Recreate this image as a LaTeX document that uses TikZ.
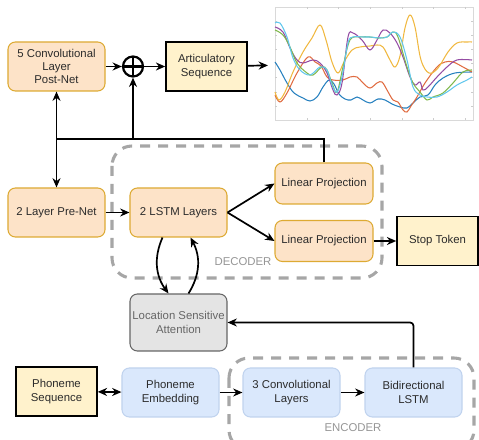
\documentclass[tikz,border=0pt]{standalone}
\usepackage{fontspec}
\setmainfont{Liberation Sans}
\usepackage{tikz}
\usetikzlibrary{arrows.meta,calc,positioning}

\definecolor{orfill}{HTML}{FDE3C8}
\definecolor{orline}{HTML}{DDAA33}
\definecolor{yefill}{HTML}{FFF2CC}
\definecolor{blfill}{HTML}{DAE8FC}
\definecolor{blline}{HTML}{C0D3EE}
\definecolor{grfill}{HTML}{E4E4E4}
\definecolor{grline}{HTML}{666666}
\definecolor{dashgray}{HTML}{A6A6A6}
\definecolor{txt}{HTML}{2B2B2B}
\definecolor{mblue}{rgb}{0.15,0.5,0.75}
\definecolor{morange}{rgb}{0.88,0.42,0.25}
\definecolor{myellow}{rgb}{0.94,0.72,0.25}
\definecolor{mpurple}{rgb}{0.58,0.3,0.64}
\definecolor{mgreen}{rgb}{0.5,0.72,0.3}
\definecolor{mcyan}{rgb}{0.38,0.78,0.93}

\begin{document}
\begin{tikzpicture}[x=0.3mm, y=-0.3mm, >={Stealth[length=2.8mm,width=2.4mm]}, font=\fontsize{9.7}{11.4}\selectfont]
	\tikzset{procbox/.style={rectangle, rounded corners=2.2mm, draw=orline, fill=orfill, line width=0.9pt, text=txt, align=center, minimum width=29.1mm, minimum height=14.7mm, inner sep=1pt}}
	\tikzset{projbox/.style={procbox, minimum width=29.4mm, minimum height=12.3mm}}
	\tikzset{iobox/.style={rectangle, draw=black, fill=yefill, line width=1.3pt, text=txt, align=center, minimum width=24.3mm, minimum height=14.6mm, inner sep=1pt}}
	\tikzset{encbox/.style={rectangle, rounded corners=2.2mm, draw=blline, fill=blfill, line width=0.9pt, text=txt, align=center, minimum width=29.1mm, minimum height=14.7mm, inner sep=1pt}}
	\tikzset{attbox/.style={encbox, draw=grline, fill=grfill, text=grline, minimum height=17.1mm}}
	\tikzset{groupbox/.style={draw=dashgray, line width=2.6pt, dash pattern=on 3mm off 2.4mm, rounded corners=6mm}}
	\tikzset{grouplabel/.style={text=dashgray!90!black}}
	\tikzset{oplus/.style={circle, draw=black, line width=1.9pt, minimum size=6mm, inner sep=0pt, path picture={\draw[line width=1.9pt] (path picture bounding box.north) -- (path picture bounding box.south) (path picture bounding box.west) -- (path picture bounding box.east);}}}
	\tikzset{conn/.style={draw=black, line width=1.45pt}}
	\tikzset{curve/.style={line width=0.9pt}}

\useasboundingbox (0,0) rectangle (479,440);
\clip (0,0) rectangle (479,440);

% groups
\draw[groupbox] (112,146) rectangle (382,278);
\draw[groupbox] (229,358) rectangle (474,450);
\node[grouplabel] (declabel) at (243,262) {DECODER};
\node[grouplabel] (enclabel) at (353,428) {ENCODER};

% blocks
\node[procbox] (postnet) at (56.5,66.5) {5 Convolutional\\Layer\\Post-Net};
\node[oplus] (oplus) at (133,66.5) {};
\node[iobox] (artic) at (206.5,66.5) {Articulatory\\Sequence};
\node[procbox] (prenet) at (56.5,212.5) {2 Layer Pre-Net};
\node[procbox] (lstm) at (178.5,212.5) {2 LSTM Layers};
\node[projbox] (lp1) at (324,183.5) {Linear Projection};
\node[projbox] (lp2) at (324,241) {Linear Projection};
\node[iobox] (stop) at (437.5,241) {Stop Token};
\node[attbox] (att) at (178.5,322.5) {Location Sensitive\\Attention};
\node[iobox] (phseq) at (56.5,391.5) {Phoneme\\Sequence};
\node[encbox] (phemb) at (170.5,392.5) {Phoneme\\Embedding};
\node[encbox] (conv) at (291.5,392.5) {3 Convolutional\\Layers};
\node[encbox] (bilstm) at (413.5,392.5) {Bidirectional\\LSTM};

% articulatory trajectories
\node[draw=gray!30, line width=0.4pt, minimum width=59.4mm, minimum height=33.9mm, inner sep=0pt, outer sep=0pt] (plot) at (374,63.5) {};
\foreach \tx in {307,338,370,402,433,465}
	\draw[gray!40, line width=0.4pt] (\tx,120) -- (\tx,118) (\tx,7) -- (\tx,9);
\foreach \ty in {21,35,49,63,77,92,106}
	\draw[gray!40, line width=0.4pt] (275,\ty) -- (277,\ty) (473,\ty) -- (471,\ty);
\draw[curve, mblue] plot[smooth, tension=0.6] coordinates {(275,62) (280,70) (287,83) (294,93) (303,98) (310,101) (317,97) (323,87) (329,80) (334,84) (339,94) (345,99) (351,100) (357,97) (363,100) (370,103) (378,99) (385,100) (392,104) (400,107) (407,108) (413,103) (420,97) (428,95) (435,85) (443,78) (455,73) (472,72)};
\draw[curve, morange] plot[smooth, tension=0.6] coordinates {(275,95) (280,102) (287,93) (297,73) (308,57) (315,62) (321,66) (327,77) (333,80) (343,80) (350,77) (357,77) (363,83) (370,88) (377,83) (382,82) (387,90) (393,100) (398,102) (403,110) (407,112) (411,106) (417,97) (425,83) (437,67) (445,62) (453,62) (463,67) (472,72)};
\draw[curve, myellow] plot[smooth, tension=0.6] coordinates {(275,92) (279,100) (285,92) (293,72) (303,52) (312,38) (320,25) (326,40) (332,62) (338,73) (344,62) (352,50) (360,47) (370,46) (377,45) (383,47) (390,60) (395,67) (400,56) (405,28) (410,15) (415,27) (421,60) (429,73) (438,68) (448,52) (457,43) (467,42) (472,42)};
\draw[curve, mpurple] plot[smooth, tension=0.6] coordinates {(275,27) (283,32) (290,48) (297,60) (303,63) (313,60) (320,63) (327,73) (333,90) (337,95) (342,83) (348,37) (353,33) (362,40) (370,50) (377,40) (383,30) (390,33) (397,43) (403,57) (410,77) (415,85) (420,82) (423,90) (428,87) (437,77) (447,67) (457,60) (472,60)};
\draw[curve, mgreen] plot[smooth, tension=0.6] coordinates {(275,30) (283,35) (290,47) (297,63) (307,73) (313,75) (322,67) (327,70) (332,83) (337,92) (343,67) (350,40) (360,37) (370,37) (378,38) (387,37) (393,32) (398,37) (407,67) (413,83) (420,92) (427,100) (433,97) (443,93) (453,83) (463,72) (472,70)};
\draw[curve, mcyan] plot[smooth, tension=0.6] coordinates {(275,23) (280,23) (287,37) (293,58) (300,70) (310,75) (320,67) (327,70) (332,85) (337,92) (342,77) (348,43) (353,37) (363,37) (370,37) (380,38) (387,37) (393,32) (400,37) (407,60) (413,87) (420,95) (427,97) (437,97) (447,92) (457,85) (467,80) (472,77)};

% connectors
\coordinate (fb) at (56.5,139);
\draw[conn, ->] (postnet) -- (oplus);
\draw[conn, ->] (oplus) -- (artic);
\draw[conn, ->, shorten >=2.1mm] (artic) -- (plot);
\draw[conn, <->] (postnet) -- (prenet);
\draw[conn] (lp1.north) |- (fb);
\draw[conn, ->] (oplus |- fb) -- (oplus.south);
\draw[conn, ->] (prenet) -- (lstm);
\draw[conn, ->] (lstm.east) -- (lp1.west);
\draw[conn, ->] (lstm.east) -- (lp2.west);
\draw[conn, ->] (lp2) -- (stop);
\draw[conn, ->] ($(lstm.south)+(-16,0)$) to[bend right=30] ($(att.north)+(-10,0)$);
\draw[conn, ->] ($(att.north)+(10,0)$) to[bend right=30] ($(lstm.south)+(12,0)$);
\draw[conn, <->] (phseq) -- (phemb);
\draw[conn, ->] (phemb) -- (conv);
\draw[conn, ->] (conv) -- (bilstm);
\draw[conn, ->, rounded corners=1mm] (bilstm.north) |- (att.east);
\end{tikzpicture}
\end{document}
